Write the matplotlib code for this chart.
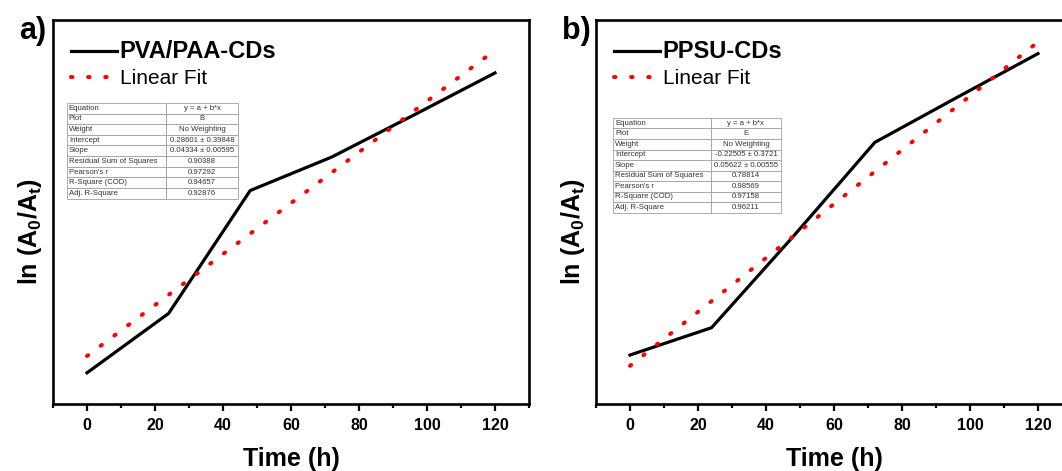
import numpy as np
import matplotlib
matplotlib.use("Agg")
import matplotlib.pyplot as plt
from matplotlib.ticker import MultipleLocator

plt.rcParams['font.family'] = ['Liberation Sans', 'DejaVu Sans']
plt.rcParams['mathtext.fontset'] = 'custom'
plt.rcParams['mathtext.rm'] = 'Liberation Sans'
plt.rcParams['mathtext.bf'] = 'Liberation Sans:bold'
plt.rcParams['mathtext.default'] = 'bf'

# data
time_h = [0, 24, 48, 72, 96, 120]
ln_pva = [0.0, 1.01, 3.10, 3.67, 4.38, 5.10]
ln_ppsu = [0.0, 0.57, 2.47, 4.43, 5.36, 6.28]

# fit parameters (from the Origin tables)
fit_pva = (0.28601, 0.04334)
fit_ppsu = (-0.22505, 0.05622)

table_rows = ["Equation", "Plot", "Weight", "Intercept", "Slope",
              "Residual Sum of Squares", "Pearson's r", "R-Square (COD)",
              "Adj. R-Square"]
table_pva = ["y = a + b*x", "B", "No Weighting", "0.28601 \u00b1 0.39848",
             "0.04334 \u00b1 0.00595", "0.90388", "0.97292", "0.94657", "0.92876"]
table_ppsu = ["y = a + b*x", "E", "No Weighting", "-0.22505 \u00b1 0.3721",
              "0.05622 \u00b1 0.00555", "0.78814", "0.98569", "0.97158", "0.96211"]

panels = [
    dict(tag="a)", name="PVA/PAA-CDs", y=ln_pva, fit=fit_pva, table=table_pva,
         ylim=(-0.53, 6.0), tbox=[0.029, 0.535, 0.36, 0.249], pos=[53, 20, 476, 384]),
    dict(tag="b)", name="PPSU-CDs", y=ln_ppsu, fit=fit_ppsu, table=table_ppsu,
         ylim=(-1.02, 6.98), tbox=[0.036, 0.498, 0.353, 0.247], pos=[596, 20, 476, 384]),
]

W, H = 1062, 471
fig = plt.figure(figsize=(W / 100, H / 100), dpi=100)

for p in panels:
    x0, top, w, h = p["pos"]
    ax = fig.add_axes([x0 / W, 1 - (top + h) / H, w / W, h / H])

    ax.plot(time_h, p["y"], color="black", lw=2.3, label=p["name"])
    xf = np.array([time_h[0], time_h[-1]])
    ax.plot(xf, p["fit"][0] + p["fit"][1] * xf, color="red", lw=2.9,
            linestyle=(0, (0.35, 3.9)), dash_capstyle="round", label="Linear Fit")

    ax.set_xlim(-10, 130)
    ax.set_ylim(*p["ylim"])
    ax.xaxis.set_major_locator(MultipleLocator(20))
    ax.xaxis.set_minor_locator(MultipleLocator(10))
    ax.set_yticks([])
    ax.tick_params(axis="x", which="major", direction="out", length=5, width=1.6,
                   labelsize=11.5, pad=5)
    ax.tick_params(axis="x", which="minor", direction="out", length=3, width=1.6)
    for lab in ax.get_xticklabels():
        lab.set_fontweight("bold")
    for s in ax.spines.values():
        s.set_linewidth(1.9)

    ax.set_xlabel("Time (h)", fontsize=18, fontweight="bold", labelpad=10)
    ax.set_ylabel("ln (A$_0$/A$_t$)", fontsize=18, fontweight="bold")
    ax.yaxis.set_label_coords(-0.019, 0.45)

    leg = ax.legend(loc="upper left", bbox_to_anchor=(0.02, 0.97), frameon=False,
                    fontsize=15, handlelength=2.2, handletextpad=0.15,
                    labelspacing=0.3, borderaxespad=0.0)
    leg.get_texts()[0].set_fontweight("bold")
    leg.get_texts()[0].set_fontsize(17)

    tb = ax.table(cellText=[[r, v] for r, v in zip(table_rows, p["table"])],
                  colWidths=[0.58, 0.42], bbox=p["tbox"])
    tb.auto_set_font_size(False)
    for (r, c), cell in tb.get_celld().items():
        cell.set_edgecolor("#a0a0a0")
        cell.set_linewidth(0.6)
        cell.get_text().set_fontsize(5.6)
        cell.get_text().set_color("#333333")
        if c == 0:
            cell.get_text().set_horizontalalignment("left")
            cell.PAD = 0.02
        else:
            cell.get_text().set_horizontalalignment("center")

    fig.text((x0 - 20) / W, 1 - 31 / H, p["tag"], fontsize=22, fontweight="bold",
             ha="center", va="center")

fig.savefig("out.png", dpi=100)
